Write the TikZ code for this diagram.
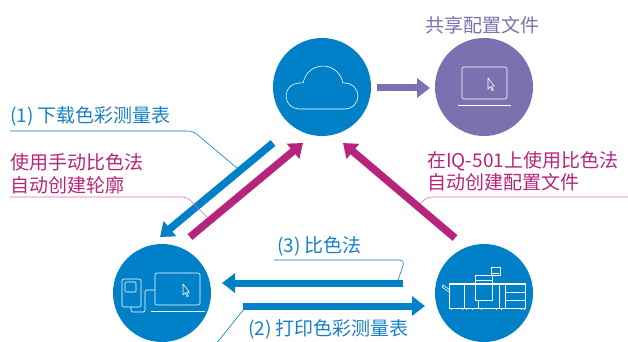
\documentclass[tikz,border=0pt]{standalone}
\usepackage{fontspec}
\newfontfamily\cjk{Noto Sans CJK SC}
\usetikzlibrary{arrows.meta}
\definecolor{ciblue}{RGB}{0,128,198}
\definecolor{cipurple}{RGB}{124,112,176}
\definecolor{cimagenta}{RGB}{183,36,124}
\definecolor{cipink}{RGB}{214,112,174}
\definecolor{citext}{RGB}{24,128,196}
\begin{document}
\begin{tikzpicture}[x=1pt, y=-1pt,
    hub/.style={circle, minimum size=98pt, inner sep=0pt},
    bar/.style={line width=7.5pt, -{Triangle[length=13pt, width=19pt]}},
    leader/.style={line width=0.6pt, rounded corners=5pt},
    lbl/.style={anchor=base west, inner sep=0pt, font=\cjk\fontsize{19}{22}\selectfont},
    icon/.style={draw=white, line width=0.6pt, line join=round}]

    \useasboundingbox (0,0) rectangle (628,342);

    \node[hub, fill=ciblue] (cloud) at (322,87) {};
    \node[hub, fill=cipurple] (share) at (484,87) {};
    \node[hub, fill=ciblue] (pc) at (162,293) {};
    \node[hub, fill=ciblue] (press) at (484,293) {};

    % cloud
    \begin{scope}[shift={(cloud.center)}, yscale=-1]
        \draw[icon] (-23,-22) arc[start angle=270, end angle=90, radius=13]
            -- (-18.8,4.1) arc[start angle=171, end angle=9, radius=20]
            -- (23,4) arc[start angle=90, end angle=-90, radius=13] -- cycle;
    \end{scope}

    % laptop
    \begin{scope}[shift={(share.center)}, yscale=-1]
        \draw[icon, rounded corners=2pt] (-22,-12) rectangle (23,20);
        \draw[icon] (-26,-18) -- (27,-18);
        \draw[icon] (4,9) -- (4,-2) -- (6.2,0.2) -- (8,-3.6) -- (9.4,-3) -- (7.6,0.8) -- (10.4,0.8) -- cycle;
    \end{scope}

    % desktop set
    \begin{scope}[shift={(pc.center)}, yscale=-1]
        \draw[icon, rounded corners=2pt] (-40,-14) rectangle (-21,14);
        \draw[icon, rounded corners=1pt] (-37,1) rectangle (-26,11);
        \draw[icon, rounded corners=2pt] (-31,-14) -- (-31,-19) -- (-17,-19) -- (-17,3) -- (-7,3);
        \draw[icon, rounded corners=2pt] (-7,-12) rectangle (38,20);
        \draw[icon] (-11,-18) -- (43,-18);
        \draw[icon] (21,9) -- (21,-2) -- (23.2,0.2) -- (25,-3.6) -- (26.4,-3) -- (24.6,0.8) -- (27.4,0.8) -- cycle;
    \end{scope}

    % press
    \begin{scope}[shift={(press.center)}, yscale=-1]
        \draw[icon] (-35,-15) rectangle (41,10);
        \draw[icon] (-35,8.5) -- (41,8.5);
        \foreach \px in {-20,15,21}
            \draw[icon] (\px,8.5) -- (\px,-15);
        \draw[icon] (-9,-7) rectangle (8,18);
        \draw[icon] (-9,13) -- (8,13);
        \draw[icon] (-6,-7) -- (-6,-15);
        \draw[icon] (7,18) rectangle (16,26);
        \draw[icon] (8,20) -- (15,20);
        \draw[icon] (21,1) -- (41,1);
        \draw[icon] (21,-7) -- (41,-7);
        \foreach \px in {-33,-22,-18,-12,-3,12,17,37,40}
            \draw[icon] (\px,-15) -- (\px,-17);
        \draw[icon] (-42,6) -- (-35,1) -- (-34,3) -- (-41,8) -- cycle;
    \end{scope}

    \coordinate (dl-s) at (273,143);
    \coordinate (dl-e) at (160,237);
    \coordinate (up-s) at (190,237);
    \coordinate (up-e) at (303,143);
    \coordinate (iq-s) at (455,238);
    \coordinate (iq-e) at (343,143);
    \coordinate (sh-s) at (377,88);
    \coordinate (sh-e) at (430,88);
    \coordinate (cm-s) at (403,283);
    \coordinate (cm-e) at (222,283);
    \coordinate (pr-s) at (243,306);
    \coordinate (pr-e) at (425,306);

    \draw[bar, cipurple, line width=7pt] (sh-s) -- (sh-e);
    \draw[bar, ciblue] (dl-s) -- (dl-e);
    \draw[bar, cimagenta] (up-s) -- (up-e);
    \draw[bar, cimagenta] (iq-s) -- (iq-e);
    \draw[bar, ciblue, line width=7pt] (cm-s) -- (cm-e);
    \draw[bar, ciblue, line width=7pt] (pr-s) -- (pr-e);

    \node[lbl, text=cipurple] (lbl-share) at (425,32.5) {共享配置文件};
    \node[lbl, text=citext] (lbl-dl) at (10,122.5) {(1) 下载色彩测量表};
    \node[lbl, text=cimagenta] (lbl-up1) at (10,169.5) {使用手动比色法};
    \node[lbl, text=cimagenta] (lbl-up2) at (10,192.5) {自动创建轮廓};
    \node[lbl, text=cimagenta] (lbl-iq1) at (427,167.5) {在IQ-501上使用比色法};
    \node[lbl, text=cimagenta] (lbl-iq2) at (427,189.5) {自动创建配置文件};
    \node[lbl, text=citext] (lbl-cm) at (277,252.5) {(3) 比色法};
    \node[lbl, text=citext] (lbl-pr) at (248,335.5) {(2) 打印色彩测量表};

    \coordinate (dl-k) at (237,168);
    \coordinate (up-k) at (208,218);
    \coordinate (iq-k) at (420,204);
    \coordinate (cm-k) at (398,280);
    \coordinate (pr-k) at (244,309);
    \coordinate (pr-o) at (216,344);

    \draw[leader, ciblue] (10,131) -- (193,131) -- (dl-k);
    \draw[leader, cipink] (10,197) -- (187,197) -- (up-k);
    \draw[leader, cipink] (630,197) -- (427,197) -- (iq-k);
    \draw[leader, ciblue] (274,260) -- (405,260) -- (cm-k);
    \draw[leader, ciblue] (pr-o) -- (pr-k);
\end{tikzpicture}
\end{document}
